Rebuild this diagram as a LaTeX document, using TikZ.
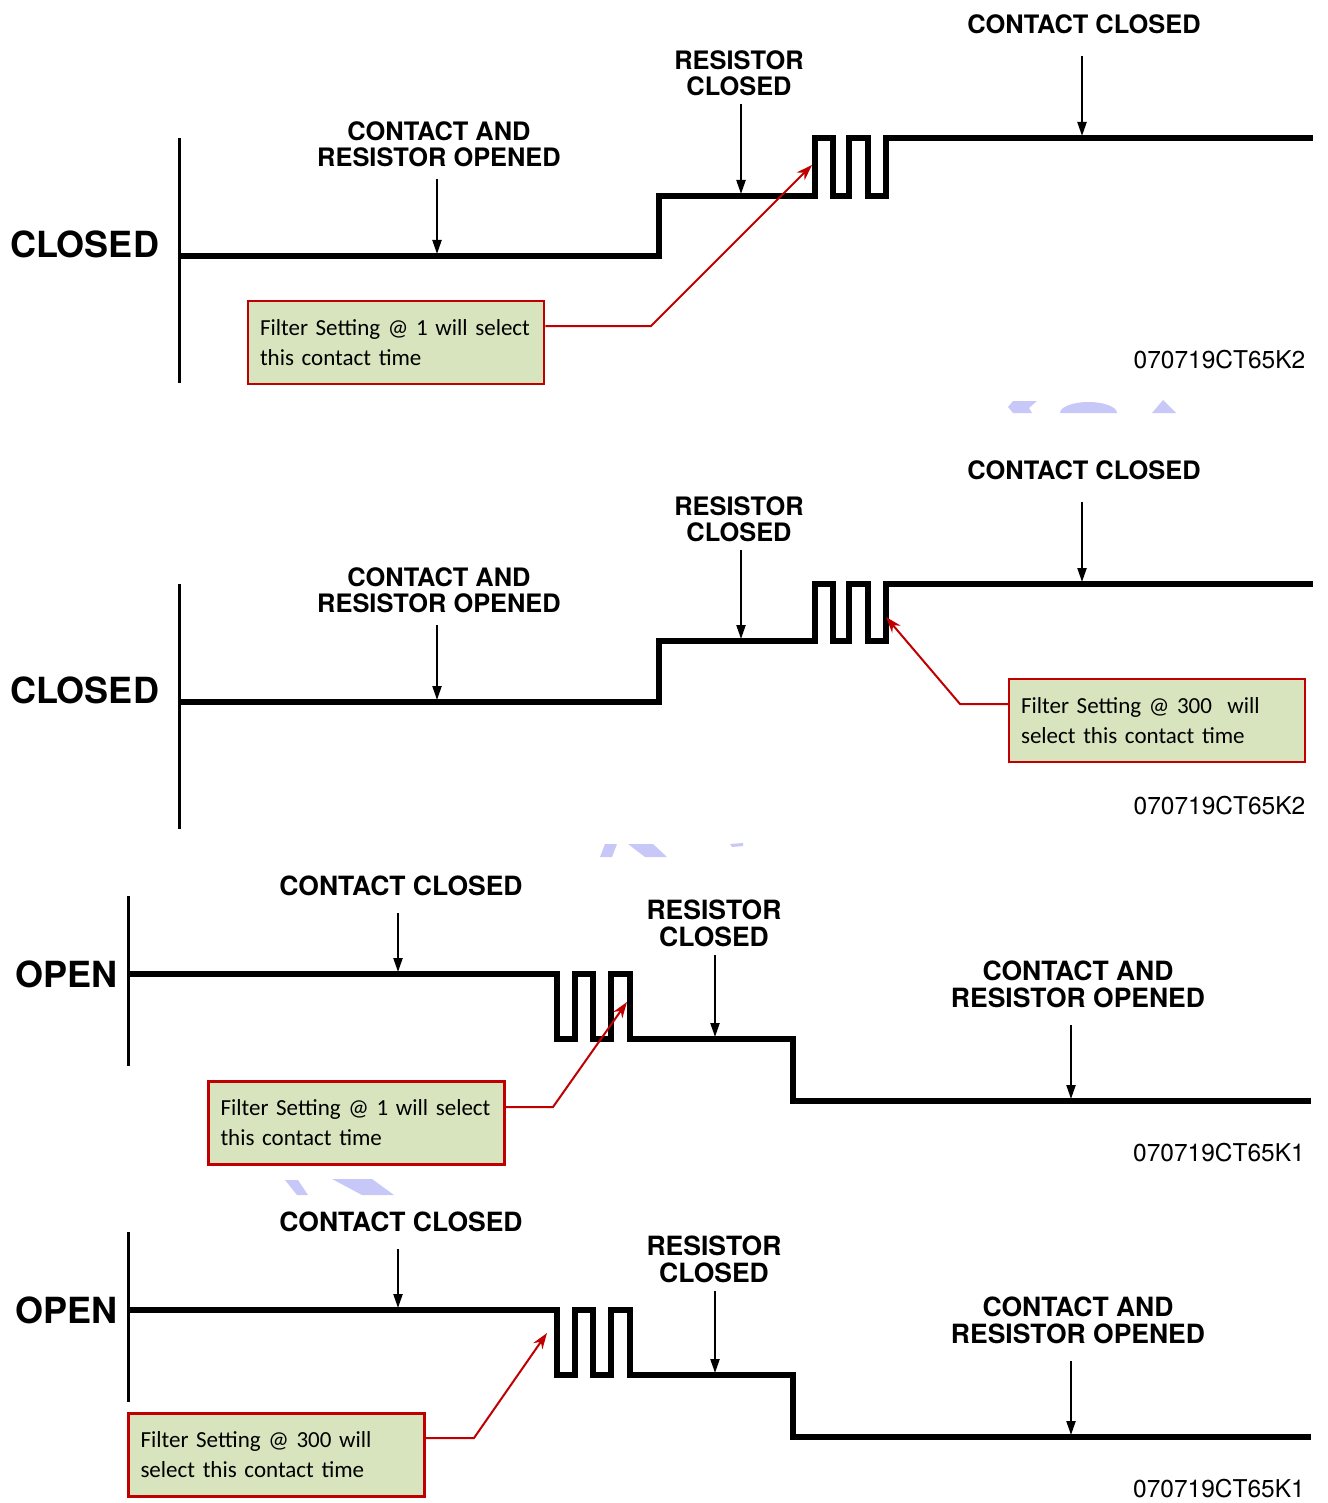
\documentclass[tikz,border=0pt]{standalone}
\usepackage{fontspec}
\setmainfont{TeX Gyre Heros}
\newfontfamily\calibri{Carlito}
\usepackage{xcolor}
\usetikzlibrary{arrows.meta}
\definecolor{boxred}{HTML}{C00000}
\definecolor{boxgreen}{HTML}{D7E4BD}
\definecolor{wmark}{RGB}{200,200,248}

\begin{document}
\begin{tikzpicture}[x=1pt,y=-1pt,
  wave/.style={line width=5.5pt},
  axis/.style={line width=3pt},
  dnarrow/.style={line width=2.2pt,-{Triangle[length=14pt,width=9pt]}},
  pointer/.style={boxred,line width=2pt,-{Stealth[length=16pt,width=11pt]}},
  callout/.style={draw=boxred,line width=2.5pt,fill=boxgreen,inner xsep=12pt,
    text width=272pt,minimum width=296pt,minimum height=83pt,align=left,
    font=\calibri\fontsize{23}{30}\selectfont},
  lbl/.style={font=\fontsize{25.4}{26}\selectfont\bfseries,align=center,inner sep=0pt},
  lblb/.style={font=\fontsize{26.5}{27}\selectfont\bfseries,align=center,inner sep=0pt},
  state/.style={font=\fontsize{36}{36}\selectfont\bfseries,inner sep=0pt},
  code/.style={font=\fontsize{24.5}{24}\selectfont,inner sep=0pt}]
\useasboundingbox (0,0) rectangle (1327,1503);

% watermark pieces
\fill[wmark] (1013,401) -- (1037,401) -- (1029,408) -- (1032,413) -- (1013,413) -- (1008,407) -- cycle;
\fill[wmark] (1060,413) arc[start angle=180,end angle=360,x radius=28.5,y radius=11] -- cycle;
\fill[wmark] (1152,413) -- (1163,400) -- (1176,413) -- cycle;
\fill[wmark] (605,844) -- (617,844) -- (612,857) -- (600,857) -- cycle;
\fill[wmark] (628,844) -- (653,844) -- (667,857) -- (645,857) -- cycle;
\fill[wmark] (730,844) -- (743,843) -- (743,846) -- (732,847) -- cycle;
\fill[wmark] (285,1180) -- (298,1180) -- (308,1195) -- (297,1195) -- cycle;
\fill[wmark] (332,1179) -- (372,1179) -- (394,1195) -- (362,1195) -- cycle;

% panel 1
\draw[axis] (179,138) -- (179,383);
\draw[wave] (179,256) -- (659,256) -- (659,196) -- (815,196) -- (815,138) -- (833,138)
  -- (833,196) -- (849,196) -- (849,138) -- (868,138) -- (868,196) -- (886,196)
  -- (886,138) -- (1313,138);
\node[state] (st1) at (84.5,244) {CLOSED};
\node[lbl] (open1) at (439,144) {CONTACT AND\\RESISTOR OPENED};
\node[lbl] (res1) at (739,73) {RESISTOR\\CLOSED};
\node[lbl] (con1) at (1084,24) {CONTACT CLOSED};
\coordinate (e11) at (437,254);
\coordinate (e12) at (741,194);
\coordinate (e13) at (1082,136);
\draw[dnarrow,shorten <=12pt] (open1.south -| e11) -- (e11);
\draw[dnarrow,shorten <=8pt] (res1.south -| e12) -- (e12);
\draw[dnarrow,shorten <=22pt] (con1.south -| e13) -- (e13);
\node[code] (id1) at (1219.5,360) {070719CT65K2};
\node[callout] (f1) at (396,342.5) {\mbox{Filter Setting @ 1 will select}\\\mbox{this contact time}};
\coordinate (k1) at (651,326);
\coordinate (t1) at (812,165);
\draw[pointer] (f1.east |- k1) -- (k1) -- (t1);

% panel 2
\draw[axis] (179,584) -- (179,829);
\draw[wave] (179,702) -- (659,702) -- (659,641) -- (815,641) -- (815,584) -- (833,584)
  -- (833,641) -- (849,641) -- (849,584) -- (868,584) -- (868,641) -- (886,641)
  -- (886,584) -- (1313,584);
\node[state] (st2) at (84.5,690) {CLOSED};
\node[lbl] (open2) at (439,590) {CONTACT AND\\RESISTOR OPENED};
\node[lbl] (res2) at (739,519) {RESISTOR\\CLOSED};
\node[lbl] (con2) at (1084,470) {CONTACT CLOSED};
\coordinate (e21) at (437,700);
\coordinate (e22) at (741,639);
\coordinate (e23) at (1082,582);
\draw[dnarrow,shorten <=12pt] (open2.south -| e21) -- (e21);
\draw[dnarrow,shorten <=8pt] (res2.south -| e22) -- (e22);
\draw[dnarrow,shorten <=22pt] (con2.south -| e23) -- (e23);
\node[code] (id2) at (1219.5,806) {070719CT65K2};
\node[callout] (f2) at (1157,720.5) {\mbox{Filter Setting @ 300~ will}\\\mbox{select this contact time}};
\coordinate (k2) at (960,704);
\coordinate (t2) at (886,617);
\draw[pointer] (f2.west |- k2) -- (k2) -- (t2);

% panel 3
\draw[axis] (128,896) -- (128,1066);
\draw[wave] (128,974) -- (557,974) -- (557,1039) -- (575,1039) -- (575,974) -- (593,974)
  -- (593,1039) -- (611,1039) -- (611,974) -- (630,974) -- (630,1039) -- (793,1039)
  -- (793,1101) -- (1311,1101);
\node[state] (st3) at (66.5,974) {OPEN};
\node[lblb] (con3) at (401,886) {CONTACT CLOSED};
\node[lblb] (res3) at (714,923.5) {RESISTOR\\CLOSED};
\node[lblb] (open3) at (1078,984.5) {CONTACT AND\\RESISTOR OPENED};
\coordinate (e31) at (398,972);
\coordinate (e32) at (715,1037);
\coordinate (e33) at (1071,1099);
\draw[dnarrow,shorten <=17pt] (con3.south -| e31) -- (e31);
\draw[dnarrow,shorten <=8pt] (res3.south -| e32) -- (e32);
\draw[dnarrow,shorten <=17pt] (open3.south -| e33) -- (e33);
\node[code] (id3) at (1219,1153) {070719CT65K1};
\node[callout] (f3) at (356.5,1123) {\mbox{Filter Setting @ 1 will select}\\\mbox{this contact time}};
\coordinate (k3) at (553,1107);
\coordinate (t3) at (627,1002);
\draw[pointer] (f3.east |- k3) -- (k3) -- (t3);

% panel 4
\draw[axis] (128,1232) -- (128,1402);
\draw[wave] (128,1310) -- (557,1310) -- (557,1375) -- (575,1375) -- (575,1310) -- (593,1310)
  -- (593,1375) -- (611,1375) -- (611,1310) -- (630,1310) -- (630,1375) -- (793,1375)
  -- (793,1437) -- (1311,1437);
\node[state] (st4) at (66.5,1310) {OPEN};
\node[lblb] (con4) at (401,1222) {CONTACT CLOSED};
\node[lblb] (res4) at (714,1259.5) {RESISTOR\\CLOSED};
\node[lblb] (open4) at (1078,1320.5) {CONTACT AND\\RESISTOR OPENED};
\coordinate (e41) at (398,1308);
\coordinate (e42) at (715,1373);
\coordinate (e43) at (1071,1435);
\draw[dnarrow,shorten <=17pt] (con4.south -| e41) -- (e41);
\draw[dnarrow,shorten <=8pt] (res4.south -| e42) -- (e42);
\draw[dnarrow,shorten <=17pt] (open4.south -| e43) -- (e43);
\node[code] (id4) at (1219,1489) {070719CT65K1};
\node[callout] (f4) at (276.5,1455) {\mbox{Filter Setting @ 300 will}\\\mbox{select this contact time}};
\coordinate (k4) at (474,1438);
\coordinate (t4) at (547,1333);
\draw[pointer] (f4.east |- k4) -- (k4) -- (t4);
\end{tikzpicture}
\end{document}
